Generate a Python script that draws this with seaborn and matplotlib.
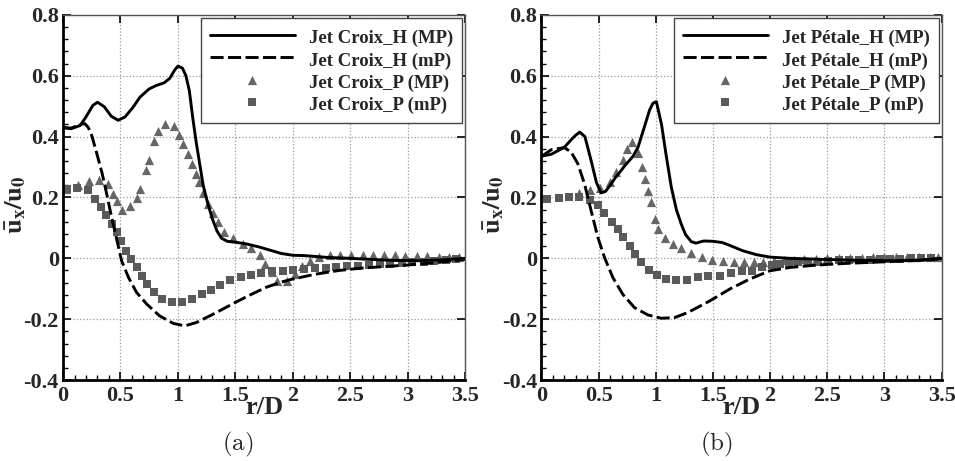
"""
Radial profiles of mean axial velocity for the cross and petal jets,
major (MP) and minor (mP) planes, hot-wire (H) vs PIV (P).
"""

import matplotlib
matplotlib.use("Agg")
import matplotlib.pyplot as plt
import seaborn as sns
from matplotlib.ticker import FixedLocator, MultipleLocator


# ---------------------------------------------------------------------------
# Data
# ---------------------------------------------------------------------------

x_ticks = [0, 0.5, 1, 1.5, 2, 2.5, 3, 3.5]
x_tick_labels = ["0", "0.5", "1", "1.5", "2", "2.5", "3", "3.5"]
y_ticks = [-0.4, -0.2, 0, 0.2, 0.4, 0.6, 0.8]
y_tick_labels = ["-0.4", "-0.2", "0", "0.2", "0.4", "0.6", "0.8"]

# (a) Jet Croix
croix_h_mp_x = [0, 0.07, 0.15, 0.2, 0.26, 0.3, 0.36, 0.42, 0.48, 0.54, 0.61,
                0.67, 0.75, 0.81, 0.88, 0.93, 0.97, 1.0, 1.04, 1.07, 1.1, 1.13,
                1.16, 1.19, 1.22, 1.26, 1.3, 1.34, 1.38, 1.43, 1.5, 1.6, 1.7,
                1.8, 1.9, 2.0, 2.1, 2.2, 2.3, 2.5, 2.7, 2.9, 3.1, 3.3, 3.5]
croix_h_mp_y = [0.43, 0.426, 0.437, 0.465, 0.503, 0.513, 0.498, 0.467, 0.454,
                0.465, 0.497, 0.53, 0.557, 0.568, 0.577, 0.592, 0.618, 0.632,
                0.625, 0.6, 0.55, 0.46, 0.38, 0.31, 0.24, 0.18, 0.13, 0.09,
                0.066, 0.056, 0.053, 0.047, 0.038, 0.027, 0.016, 0.01, 0.009,
                0.006, 0.003, 0.0, -0.004, -0.007, -0.008, -0.005, 0.0]

croix_h_mp2_x = [0, 0.07, 0.15, 0.19, 0.22, 0.25, 0.29, 0.34, 0.38, 0.42, 0.47,
                 0.51, 0.57, 0.64, 0.73, 0.84, 0.96, 1.06, 1.16, 1.3, 1.4, 1.5,
                 1.63, 1.77, 1.9, 2.0, 2.2, 2.4, 2.6, 2.8, 3.0, 3.2, 3.4, 3.5]
croix_h_mp2_y = [0.43, 0.428, 0.44, 0.443, 0.43, 0.404, 0.35, 0.28, 0.212,
                 0.14, 0.058, -0.008, -0.063, -0.112, -0.151, -0.189, -0.214,
                 -0.222, -0.211, -0.185, -0.165, -0.145, -0.12, -0.095, -0.078,
                 -0.068, -0.052, -0.04, -0.032, -0.027, -0.022, -0.016, -0.008,
                 -0.003]

croix_p_mp_x = [0.03, 0.13, 0.226, 0.316, 0.389, 0.432, 0.467, 0.511, 0.583,
                0.641, 0.67, 0.723, 0.749, 0.795, 0.827, 0.888, 0.966, 1.01,
                1.048, 1.085, 1.12, 1.155, 1.187, 1.22, 1.26, 1.305, 1.35, 1.4,
                1.477, 1.564, 1.64, 1.715, 1.761, 1.817, 1.866, 1.947, 2.02,
                2.078, 2.15, 2.23, 2.325, 2.41, 2.51, 2.61, 2.70, 2.79, 2.89,
                2.98, 3.08, 3.17, 3.27, 3.36, 3.45]
croix_p_mp_y = [0.228, 0.242, 0.254, 0.259, 0.243, 0.212, 0.188, 0.160, 0.171,
                0.199, 0.229, 0.289, 0.322, 0.386, 0.419, 0.443, 0.434, 0.404,
                0.377, 0.344, 0.311, 0.278, 0.251, 0.215, 0.18, 0.148, 0.118,
                0.088, 0.066, 0.048, 0.033, 0.012, -0.017, -0.045, -0.074,
                -0.074, -0.05, -0.024, -0.008, 0.003, 0.01, 0.01, 0.01, 0.01,
                0.01, 0.01, 0.01, 0.008, 0.008, 0.007, 0.006, 0.005, 0.005]

croix_p_mp2_x = [0.032, 0.125, 0.215, 0.279, 0.328, 0.374, 0.424, 0.467, 0.505,
                 0.548, 0.592, 0.641, 0.685, 0.734, 0.792, 0.859, 0.946, 1.033,
                 1.12, 1.207, 1.29, 1.367, 1.454, 1.547, 1.637, 1.724, 1.817,
                 1.913, 2.006, 2.1, 2.194, 2.29, 2.38, 2.47, 2.57, 2.66, 2.76,
                 2.85, 2.95, 3.04, 3.14, 3.23, 3.33, 3.42]
croix_p_mp2_y = [0.229, 0.231, 0.223, 0.196, 0.168, 0.141, 0.113, 0.086, 0.056,
                 0.025, -0.002, -0.03, -0.057, -0.085, -0.112, -0.134, -0.145,
                 -0.145, -0.134, -0.117, -0.103, -0.087, -0.071, -0.06, -0.054,
                 -0.047, -0.043, -0.041, -0.038, -0.034, -0.032, -0.031, -0.03,
                 -0.026, -0.024, -0.021, -0.019, -0.017, -0.015, -0.013, -0.011,
                 -0.008, -0.006, -0.003]

# (b) Jet Pétale
petale_h_mp_x = [0, 0.085, 0.2, 0.26, 0.3, 0.335, 0.38, 0.435, 0.48, 0.52,
                 0.56, 0.6, 0.64, 0.73, 0.8, 0.845, 0.9, 0.945, 0.975, 1.005,
                 1.05, 1.09, 1.135, 1.18, 1.22, 1.26, 1.31, 1.35, 1.42, 1.5,
                 1.58, 1.65, 1.76, 1.88, 2.0, 2.17, 2.35, 2.5, 2.7, 2.9, 3.1,
                 3.3, 3.5]
petale_h_mp_y = [0.336, 0.342, 0.365, 0.39, 0.405, 0.415, 0.4, 0.32, 0.25,
                 0.215, 0.22, 0.24, 0.262, 0.305, 0.335, 0.366, 0.432, 0.487,
                 0.51, 0.515, 0.44, 0.34, 0.235, 0.16, 0.115, 0.078, 0.055,
                 0.05, 0.057, 0.056, 0.052, 0.042, 0.025, 0.012, 0.004, 0.0,
                 -0.002, -0.004, -0.006, -0.007, -0.008, -0.006, 0.0]

petale_h_mp2_x = [0, 0.085, 0.2, 0.26, 0.318, 0.376, 0.434, 0.493, 0.551,
                  0.624, 0.711, 0.813, 0.93, 1.047, 1.163, 1.28, 1.362, 1.472,
                  1.647, 1.822, 1.997, 2.172, 2.35, 2.5, 2.7, 2.9, 3.1, 3.3,
                  3.5]
petale_h_mp2_y = [0.335, 0.357, 0.364, 0.349, 0.311, 0.245, 0.157, 0.069,
                  0.003, -0.063, -0.118, -0.162, -0.186, -0.197, -0.195,
                  -0.178, -0.162, -0.14, -0.101, -0.068, -0.041, -0.03, -0.024,
                  -0.02, -0.016, -0.013, -0.01, -0.007, -0.002]

petale_p_mp_x = [0.33, 0.42, 0.51, 0.595, 0.653, 0.711, 0.745, 0.793, 0.84,
                 0.875, 0.905, 0.935, 0.96, 0.99, 1.02, 1.076, 1.149, 1.222,
                 1.309, 1.408, 1.49, 1.59, 1.68, 1.77, 1.86, 1.94, 2.03, 2.12,
                 2.21, 2.3, 2.4, 2.5, 2.6, 2.7, 2.8, 2.9, 3.0, 3.1, 3.2, 3.3,
                 3.4, 3.47]
petale_p_mp_y = [0.215, 0.225, 0.232, 0.251, 0.284, 0.322, 0.36, 0.383, 0.345,
                 0.3, 0.26, 0.222, 0.185, 0.13, 0.097, 0.066, 0.047, 0.034,
                 0.018, 0.004, -0.005, -0.01, -0.013, -0.013, -0.013, -0.012,
                 -0.01, -0.007, -0.005, -0.003, -0.002, 0.0, 0.001, 0.002,
                 0.002, 0.003, 0.003, 0.003, 0.003, 0.003, 0.003, 0.003]

petale_p_mp2_x = [0.05, 0.149, 0.239, 0.332, 0.42, 0.493, 0.551, 0.615, 0.668,
                  0.717, 0.77, 0.819, 0.872, 0.939, 1.009, 1.09, 1.178, 1.274,
                  1.37, 1.458, 1.56, 1.662, 1.75, 1.837, 1.925, 2.012, 2.085,
                  2.166, 2.245, 2.333, 2.42, 2.508, 2.6, 2.69, 2.78, 2.87, 2.96,
                  3.05, 3.14, 3.23, 3.32, 3.41]
petale_p_mp2_y = [0.196, 0.199, 0.201, 0.203, 0.192, 0.174, 0.148, 0.121,
                  0.097, 0.069, 0.042, 0.014, -0.013, -0.038, -0.054, -0.068,
                  -0.07, -0.07, -0.063, -0.059, -0.057, -0.048, -0.043, -0.041,
                  -0.03, -0.021, -0.019, -0.015, -0.013, -0.013, -0.011,
                  -0.008, -0.007, -0.006, -0.005, -0.004, -0.003, -0.002,
                  -0.001, 0.0, 0.0, 0.0]


# ---------------------------------------------------------------------------
# Style
# ---------------------------------------------------------------------------

sns.set_theme(style="ticks")
plt.rcParams["font.family"] = ["Liberation Serif", "DejaVu Serif"]
plt.rcParams["font.weight"] = "bold"

DASH = (0, (4.5, 1.5))


def draw_panel(ax, name, h_mp, h_mp2, p_mp, p_mp2):
    """One panel: two hot-wire curves and two PIV marker series."""
    sns.lineplot(x=h_mp[0], y=h_mp[1], ax=ax, color="black", lw=2.1,
                 estimator=None, sort=False, label=f"Jet {name}_H (MP)")
    sns.lineplot(x=h_mp2[0], y=h_mp2[1], ax=ax, color="black", lw=2.1,
                 linestyle=DASH, estimator=None, sort=False,
                 label=f"Jet {name}_H (mP)")
    sns.scatterplot(x=p_mp[0], y=p_mp[1], ax=ax, marker="^", s=44,
                    color="#666666", linewidth=0, label=f"Jet {name}_P (MP)")
    sns.scatterplot(x=p_mp2[0], y=p_mp2[1], ax=ax, marker="s", s=30,
                    color="#5a5a5a", linewidth=0, label=f"Jet {name}_P (mP)")

    ax.set_xlim(0, 3.5)
    ax.set_ylim(-0.4, 0.8)
    ax.xaxis.set_major_locator(FixedLocator(x_ticks))
    ax.set_xticklabels(x_tick_labels)
    ax.yaxis.set_major_locator(FixedLocator(y_ticks))
    ax.set_yticklabels(y_tick_labels)
    ax.xaxis.set_minor_locator(MultipleLocator(0.1))
    ax.yaxis.set_minor_locator(MultipleLocator(0.04))

    ax.tick_params(which="both", direction="in", top=True, right=True,
                   labelsize=16, color="black")
    ax.tick_params(axis="x", pad=4)
    ax.tick_params(axis="y", pad=3)
    ax.tick_params(which="major", length=6, width=1.2)
    ax.tick_params(which="minor", length=3.5, width=1.0, top=False, right=False)
    for lbl in ax.get_xticklabels() + ax.get_yticklabels():
        lbl.set_fontweight("bold")

    ax.grid(True, which="major", linestyle=":", color="#9a9a9a", lw=0.9)
    for side in ("left", "bottom"):
        ax.spines[side].set_linewidth(2.0)
        ax.spines[side].set_color("black")
    for side in ("top", "right"):
        ax.spines[side].set_linewidth(1.0)
        ax.spines[side].set_color("#555555")

    ax.set_xlabel("r/D", fontsize=19, fontweight="bold")
    ax.xaxis.set_label_coords(0.5, -0.045)
    ax.set_ylabel(r"$\mathbf{\bar{u}_x/u_0}$", fontsize=19,
                  math_fontfamily="stix")
    ax.yaxis.set_label_coords(-0.088, 0.48)

    leg = ax.legend(loc="upper right", bbox_to_anchor=(0.993, 0.993),
                    borderaxespad=0, handlelength=4.5, handleheight=1.3,
                    handletextpad=0.75, labelspacing=0.08, borderpad=0.5,
                    fancybox=False, framealpha=1, edgecolor="#444444",
                    prop={"weight": "bold", "size": 13.5})
    leg.get_frame().set_linewidth(1.0)


fig = plt.figure(figsize=(9.55, 4.61), dpi=100)
ax_a = fig.add_axes([0.066, 0.1757, 0.421, 0.7918])
ax_b = fig.add_axes([0.567, 0.1757, 0.419, 0.7918])

draw_panel(ax_a, "Croix",
           (croix_h_mp_x, croix_h_mp_y), (croix_h_mp2_x, croix_h_mp2_y),
           (croix_p_mp_x, croix_p_mp_y), (croix_p_mp2_x, croix_p_mp2_y))
draw_panel(ax_b, "Pétale",
           (petale_h_mp_x, petale_h_mp_y), (petale_h_mp2_x, petale_h_mp2_y),
           (petale_p_mp_x, petale_p_mp_y), (petale_p_mp2_x, petale_p_mp2_y))

fig.text(0.249, 0.035, r"$\mathrm{(a)}$", ha="center", va="center",
         fontsize=18, math_fontfamily="cm")
fig.text(0.75, 0.035, r"$\mathrm{(b)}$", ha="center", va="center",
         fontsize=18, math_fontfamily="cm")

fig.savefig("out.png", dpi=100)
